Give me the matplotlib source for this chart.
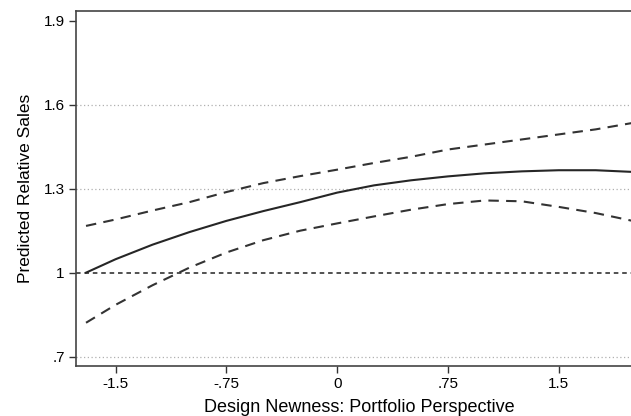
import numpy as np
import matplotlib
matplotlib.use("Agg")
import matplotlib.pyplot as plt

plt.rcParams['font.family'] = ['Liberation Sans', 'DejaVu Sans']

# Predicted relative sales vs. design newness (portfolio perspective)
newness = [-1.7, -1.5, -1.25, -1.0, -0.75, -0.5, -0.25, 0.0, 0.25, 0.5,
           0.75, 1.0, 1.25, 1.5, 1.75, 2.0]
predicted = [1.000, 1.048, 1.100, 1.145, 1.185, 1.220, 1.252, 1.286, 1.312, 1.330,
             1.344, 1.355, 1.362, 1.366, 1.366, 1.360]
upper_ci = [1.167, 1.190, 1.222, 1.252, 1.288, 1.320, 1.345, 1.368, 1.392, 1.414,
            1.440, 1.458, 1.476, 1.494, 1.512, 1.535]
lower_ci = [0.821, 0.885, 0.955, 1.018, 1.072, 1.116, 1.150, 1.176, 1.201, 1.225,
            1.245, 1.258, 1.255, 1.235, 1.213, 1.185]

xticks = [-1.5, -0.75, 0, 0.75, 1.5]
xtick_labels = ['-1.5', '-.75', '0', '.75', '1.5']
yticks = [0.7, 1.0, 1.3, 1.6, 1.9]
ytick_labels = ['.7', '1', '1.3', '1.6', '1.9']
grid_levels = [0.7, 1.3, 1.6]

fig = plt.figure(figsize=(6.31, 4.16), dpi=100)
ax = fig.add_axes([0.1204, 0.1212, 0.8796, 0.8524])

for g in grid_levels:
    ax.axhline(g, color='#b0b0b0', lw=0.9, ls=(0, (1, 2)), zorder=1)
ax.axhline(1.0, color='#222222', lw=1.1, ls=(0, (3, 2.5)), zorder=1)

ax.plot(newness, predicted, color='#262626', lw=1.5, zorder=3)
ax.plot(newness, upper_ci, color='#333333', lw=1.5, ls=(0, (5, 3.5)), zorder=3)
ax.plot(newness, lower_ci, color='#333333', lw=1.5, ls=(0, (5, 3.5)), zorder=3)

ax.set_xlim(-1.768, 1.989)
ax.set_ylim(0.668, 1.935)
ax.set_xticks(xticks)
ax.set_xticklabels(xtick_labels)
ax.set_yticks(yticks)
ax.set_yticklabels(ytick_labels)
ax.tick_params(axis='both', direction='out', length=5, width=1, color='#333333',
               labelsize=11, pad=3)

for side in ['left', 'bottom', 'top']:
    ax.spines[side].set_color('#444444')
    ax.spines[side].set_linewidth(1.2)
ax.spines['right'].set_visible(False)

ax.set_xlabel('Design Newness: Portfolio Perspective', fontsize=13)
ax.xaxis.set_label_coords(0.511, -0.095)
ax.set_ylabel('Predicted Relative Sales', fontsize=12.5, labelpad=8)

fig.savefig('out.png', dpi=100)
